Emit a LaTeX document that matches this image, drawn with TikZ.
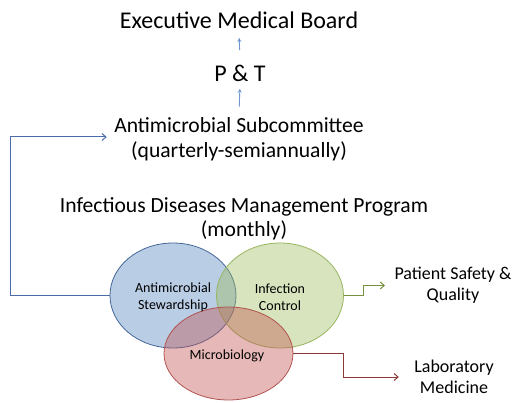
\documentclass[tikz,border=0pt]{standalone}
\usepackage{fontspec}
\setmainfont{Carlito}
\usetikzlibrary{arrows.meta,shapes.geometric}
\definecolor{bluefill}{HTML}{4F81BD}
\definecolor{blueedge}{HTML}{44679A}
\definecolor{greenfill}{HTML}{9BBB59}
\definecolor{greenedge}{HTML}{98B461}
\definecolor{redfill}{HTML}{C0504D}
\definecolor{rededge}{HTML}{B0524F}
\definecolor{blueline}{HTML}{4A6CA8}
\definecolor{greenline}{HTML}{76903E}
\definecolor{redline}{HTML}{8C3A38}
\definecolor{lightarrow}{HTML}{6F96D0}
\tikzset{
  big/.style={font=\fontsize{24}{24.5}\selectfont, align=center},
  mid/.style={font=\fontsize{21.6}{24.5}\selectfont, align=center},
  side/.style={font=\fontsize{18}{21}\selectfont, align=center},
  small/.style={font=\fontsize{14}{17}\selectfont, align=center},
  circ/.style={ellipse, draw, line width=0.8pt, inner sep=0pt, fill opacity=0.4},
  uparr/.style={lightarrow, line width=0.9pt, -{Stealth[length=4pt,width=4pt]}},
  conn/.style={line width=1pt, -{Straight Barb[length=4pt,width=7pt]}}
}
\begin{document}
\begin{tikzpicture}[x=1pt,y=-1pt]
\useasboundingbox (0,0) rectangle (514,403);
% titles
\node[big] (exec) at (239,20) {Executive Medical Board};
\node[big] (pt) at (240,73) {P \& T};
\node[mid] (sub) at (239,139) {Antimicrobial Subcommittee\\(quarterly-semiannually)};
\node[mid] (idmp) at (244,219) {Infectious Diseases Management Program\\(monthly)};
\draw[uparr, shorten <=11pt, shorten >=6pt] (pt.north) -- (exec.south);
\draw[uparr, shorten <=7pt, shorten >=4pt] (sub.north) -- (pt.south);
% ellipses
\node[circ, draw=blueedge, fill=bluefill, minimum width=126pt, minimum height=105pt] (blue) at (173,295.5) {};
\node[circ, draw=greenedge, fill=greenfill, minimum width=127pt, minimum height=105pt] (green) at (280,295.5) {};
\node[circ, draw=rededge, fill=redfill, minimum width=129pt, minimum height=93pt] (red) at (228.5,353.5) {};
\node[small] (ast) at (173,297) {Antimicrobial\\Stewardship};
\node[small] (ic) at (280,297) {Infection\\Control};
\node[small] (micro) at (227,356) {Microbiology};
% side labels
\node[side] (psq) at (453,285.5) {Patient Safety \&\\Quality};
\node[side] (lab) at (454,377) {Laboratory\\Medicine};
% connectors
\draw[conn, blueline, shorten >=4pt] (blue.west) -- (10,295.5) |- ([yshift=2pt]sub.west);
\draw[conn, greenline, shorten >=6pt] (green.east) -- (363,295.5) |- (psq.west);
\draw[conn, redline, shorten >=12pt] (red.east) -- (343,353.5) |- (lab.west);
\end{tikzpicture}
\end{document}
